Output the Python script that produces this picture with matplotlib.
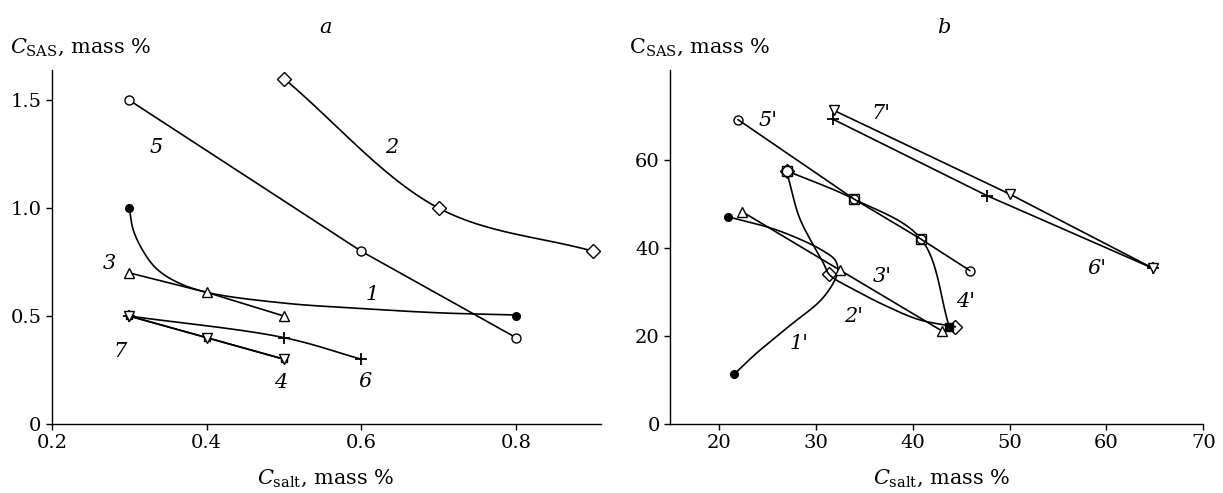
import numpy as np
import matplotlib
matplotlib.use('Agg')
from matplotlib import pyplot as plt

# ---- panel a: C_SAS vs C_salt, mass %
a1_x = [0.3, 0.8]
a1_y = [1.0, 0.5]
a1_path_x = [0.3, 0.305, 0.318, 0.335, 0.36, 0.4, 0.5, 0.6, 0.7, 0.8]
a1_path_y = [1.0, 0.9, 0.8, 0.72, 0.66, 0.61, 0.56, 0.535, 0.515, 0.505]
a2_x = [0.5, 0.7, 0.9]
a2_y = [1.6, 1.0, 0.8]
a3_x = [0.3, 0.4, 0.5]
a3_y = [0.7, 0.61, 0.5]
a4_x = [0.3, 0.4, 0.5]
a4_y = [0.5, 0.4, 0.3]
a5_x = [0.3, 0.6, 0.8]
a5_y = [1.5, 0.8, 0.4]
a6_x = [0.3, 0.5, 0.6]
a6_y = [0.5, 0.4, 0.3]
a7_x = [0.3, 0.4, 0.5]
a7_y = [0.5, 0.4, 0.3]
a_labels = ['1', '2', '3', '4', '5', '6', '7']
a_label_x = [0.614, 0.639, 0.274, 0.496, 0.335, 0.605, 0.288]
a_label_y = [0.6, 1.28, 0.745, 0.19, 1.28, 0.196, 0.335]
a_xticks = [0.2, 0.4, 0.6, 0.8]
a_yticks = [0, 0.5, 1.0, 1.5]
a_yticklabels = ['0', '0.5', '1.0', '1.5']

# ---- panel b
b1_x = [21.0, 21.6]
b1_y = [47.1, 11.3]
b1_path_x = [21.0, 25.6, 28.5, 30.6, 32.0, 32.3, 32.0, 30.6, 27.3, 23.9, 21.6]
b1_path_y = [47.1, 44.4, 41.9, 39.6, 37.3, 35.0, 32.8, 28.3, 22.3, 16.1, 11.3]
b2_x = [27.0, 31.4, 44.4]
b2_y = [57.6, 34.0, 22.1]
b2_path_x = [27.0, 28.3, 29.65, 30.8, 31.4, 34.0, 37.4, 40.7, 44.4]
b2_path_y = [57.6, 47.1, 41.1, 36.6, 34.0, 30.5, 26.7, 23.7, 22.1]
b3_x = [22.4, 32.5, 43.0]
b3_y = [48.3, 35.0, 21.2]
b4_x = [27.0, 34.0, 40.9]
b4_y = [57.6, 51.1, 42.0]
b4_end_x = [43.8]
b4_end_y = [22.0]
b5_x = [22.0, 34.0, 40.9, 45.9]
b5_y = [69.2, 51.1, 42.0, 34.9]
b6_x = [31.8, 47.7, 64.8]
b6_y = [69.3, 51.9, 35.4]
b7_x = [31.9, 50.0, 64.8]
b7_y = [71.3, 52.3, 35.4]
b_labels = ["1'", "2'", "3'", "4'", "5'", "6'", "7'"]
b_label_x = [28.3, 33.9, 36.9, 45.5, 25.1, 59.0, 36.7]
b_label_y = [18.2, 24.5, 33.5, 27.8, 69.0, 35.4, 70.7]
b_xticks = [20, 30, 40, 50, 60, 70]
b_yticks = [0, 20, 40, 60]


def smooth(xs, ys, sx, sy, n=25):
    # centripetal catmull-rom through the read points (scaled to ~pixels)
    p = np.column_stack([np.array(xs) * sx, np.array(ys) * sy])
    p = np.vstack([2 * p[0] - p[1], p, 2 * p[-1] - p[-2]])
    out = []
    for i in range(1, len(p) - 2):
        p0, p1, p2, p3 = p[i - 1], p[i], p[i + 1], p[i + 2]
        t0 = 0.0
        t1 = t0 + np.linalg.norm(p1 - p0) ** 0.5 + 1e-9
        t2 = t1 + np.linalg.norm(p2 - p1) ** 0.5 + 1e-9
        t3 = t2 + np.linalg.norm(p3 - p2) ** 0.5 + 1e-9
        t = np.linspace(t1, t2, n)[:, None]
        A1 = (t1 - t) / (t1 - t0) * p0 + (t - t0) / (t1 - t0) * p1
        A2 = (t2 - t) / (t2 - t1) * p1 + (t - t1) / (t2 - t1) * p2
        A3 = (t3 - t) / (t3 - t2) * p2 + (t - t2) / (t3 - t2) * p3
        B1 = (t2 - t) / (t2 - t0) * A1 + (t - t0) / (t2 - t0) * A2
        B2 = (t3 - t) / (t3 - t1) * A2 + (t - t1) / (t3 - t1) * A3
        C = (t2 - t) / (t2 - t1) * B1 + (t - t1) / (t2 - t1) * B2
        out.append(C)
    out = np.vstack(out)
    return out[:, 0] / sx, out[:, 1] / sy


plt.rcParams['font.family'] = ['DejaVu Serif']
plt.rcParams['mathtext.fontset'] = 'dejavuserif'
plt.rcParams['axes.linewidth'] = 1.0
plt.rcParams['xtick.direction'] = 'out'
plt.rcParams['ytick.direction'] = 'out'
plt.rcParams['xtick.major.size'] = 4
plt.rcParams['ytick.major.size'] = 4

fig = plt.figure(figsize=(12.23, 4.93), dpi=100)
ax = fig.add_axes([0.0425, 0.14, 0.449, 0.718])
bx = fig.add_axes([0.548, 0.14, 0.436, 0.718])

lw = 1.2
ms = 7
open_kw = dict(color='black', lw=lw, mfc='white', mec='black', ms=ms, mew=1.0)
mark_kw = dict(ls='none', color='black', mfc='white', mec='black', ms=ms, mew=1.0)

# panel a, scale factors roughly px per unit
sxa, sya = 775, 216
x, y = smooth(a1_path_x, a1_path_y, sxa, sya)
ax.plot(x, y, color='black', lw=lw)
ax.plot(a1_x, a1_y, 'o', color='black', ms=5.5)
x, y = smooth(a2_x, a2_y, sxa, sya)
ax.plot(x, y, color='black', lw=lw)
ax.plot(a2_x, a2_y, 'D', **mark_kw)
ax.plot(a5_x, a5_y, '-o', color='black', lw=lw, mfc='white', mec='black', ms=6.5, mew=1.0)
ax.plot(a3_x, a3_y, '-^', **open_kw)
x, y = smooth(a6_x, a6_y, sxa, sya)
ax.plot(x, y, color='black', lw=lw)
ax.plot(a6_x, a6_y, '+', color='black', ms=8, mew=1.3)
ax.plot(a4_x, a4_y, '-s', color='black', lw=lw, mfc='white', mec='black', ms=5, mew=1.0)
ax.plot(a7_x, a7_y, '-v', **open_kw)
for t, lx, ly in zip(a_labels, a_label_x, a_label_y):
    ax.text(lx, ly, t, fontsize=15, style='italic', ha='center', va='center')

ax.set_xlim(0.2, 0.91)
ax.set_ylim(0, 1.64)
ax.set_xticks(a_xticks)
ax.set_xticklabels([str(v) for v in a_xticks])
ax.set_yticks(a_yticks)
ax.set_yticklabels(a_yticklabels)

# panel b
sxb, syb = 9.8, 4.4
x, y = smooth(b1_path_x, b1_path_y, sxb, syb)
bx.plot(x, y, color='black', lw=lw)
bx.plot(b1_x, b1_y, 'o', color='black', ms=5.5)
x, y = smooth(b2_path_x, b2_path_y, sxb, syb)
bx.plot(x, y, color='black', lw=lw)
x, y = smooth(b4_x + b4_end_x, b4_y + b4_end_y, sxb, syb)
bx.plot(x, y, color='black', lw=lw)
bx.plot(b4_x, b4_y, 's', **mark_kw)
bx.plot(b4_end_x, b4_end_y, 's', color='black', ms=6)
bx.plot(b2_x, b2_y, 'D', ls='none', color='black', mfc='none', mec='black', ms=ms, mew=1.0)
bx.plot(b3_x, b3_y, '-^', **open_kw)
bx.plot(b5_x, b5_y, '-o', color='black', lw=lw, mfc='none', mec='black', ms=6.5, mew=1.0)
bx.plot(b6_x, b6_y, '-+', color='black', lw=lw, ms=8, mew=1.3)
bx.plot(b7_x, b7_y, '-v', **open_kw)
for t, lx, ly in zip(b_labels, b_label_x, b_label_y):
    bx.text(lx, ly, t, fontsize=15, style='italic', ha='center', va='center')

bx.set_xlim(15, 70)
bx.set_ylim(0, 80.5)
bx.set_xticks(b_xticks)
bx.set_yticks(b_yticks)

for a in (ax, bx):
    a.spines['top'].set_visible(False)
    a.spines['right'].set_visible(False)
    a.tick_params(labelsize=14, width=1.0)

fig.text(0.008, 0.905, r'$C_{\rm SAS}$, mass %', fontsize=15, ha='left', va='center')
fig.text(0.514, 0.905, r'C$_{\rm SAS}$, mass %', fontsize=15, ha='left', va='center')
fig.text(0.266, 0.03, r'$C_{\rm salt}$, mass %', fontsize=15, ha='center', va='center')
fig.text(0.770, 0.03, r'$C_{\rm salt}$, mass %', fontsize=15, ha='center', va='center')
fig.text(0.266, 0.945, 'a', fontsize=15, style='italic', ha='center', va='center')
fig.text(0.772, 0.945, 'b', fontsize=15, style='italic', ha='center', va='center')

fig.savefig('out.png', dpi=100)
